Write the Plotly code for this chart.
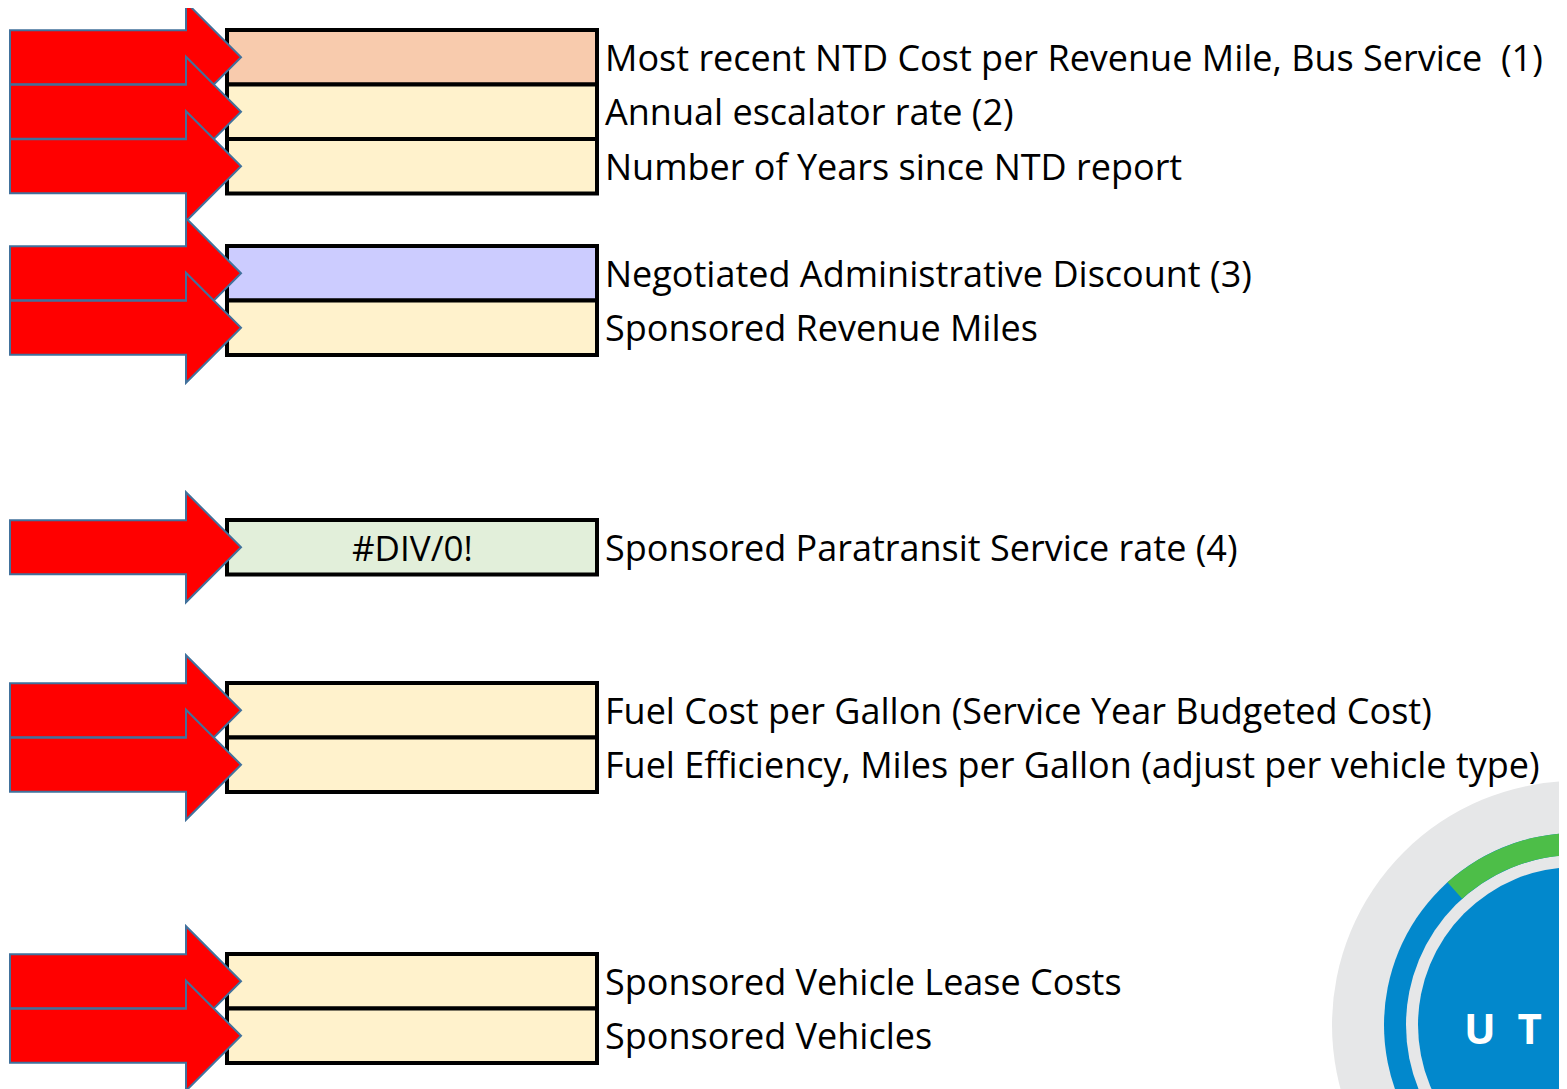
import numpy as np
import plotly.graph_objects as go

# Input cells, top to bottom
LABELS = [
    "Most recent NTD Cost per Revenue Mile, Bus Service  (1)",
    "Annual escalator rate (2)",
    "Number of Years since NTD report",
    "Negotiated Administrative Discount (3)",
    "Sponsored Revenue Miles",
    "Sponsored Paratransit Service rate (4)",
    "Fuel Cost per Gallon (Service Year Budgeted Cost)",
    "Fuel Efficiency, Miles per Gallon (adjust per vehicle type)",
    "Sponsored Vehicle Lease Costs",
    "Sponsored Vehicles",
]
CELL_VALUES = ["", "", "", "", "", "#DIV/0!", "", "", "", ""]
CELL_FILLS = ["#F8CBAD", "#FFF2CC", "#FFF2CC", "#CCCCFF", "#FFF2CC",
              "#E2EFDA", "#FFF2CC", "#FFF2CC", "#FFF2CC", "#FFF2CC"]
# which block each cell belongs to
GROUPS = [0, 0, 0, 1, 1, 2, 3, 3, 4, 4]

W, H = 1567, 1089
PAD = 8  # the page body has an 8px margin, so shift the coordinate system by it
GROUP_TOPS = [30, 246, 520, 683, 954]
ROW_H = 54.5
BOX_X0, BOX_X1 = 227, 597
FONT = "Open Sans"

fig = go.Figure()

# cell rectangles
rows = []
count = {}
for i, g in enumerate(GROUPS):
    k = count.get(g, 0)
    count[g] = k + 1
    y0 = GROUP_TOPS[g] + k * ROW_H
    rows.append((y0, y0 + ROW_H))

for (y0, y1), fill in zip(rows, CELL_FILLS):
    fig.add_shape(type="rect", x0=BOX_X0, x1=BOX_X1, y0=y0, y1=y1,
                  fillcolor=fill, line=dict(color="black", width=4), layer="above")

# red arrows, drawn after the cells so the tips sit on top
for y0, y1 in rows:
    c = (y0 + y1) / 2
    path = (f"M 10 {c-27} L 186 {c-27} L 186 {c-55} L 241 {c} "
            f"L 186 {c+55} L 186 {c+27} L 10 {c+27} Z")
    fig.add_shape(type="path", path=path, fillcolor="#FF0000",
                  line=dict(color="#41719C", width=2), layer="above")

# labels and cell values
for (y0, y1), label, val in zip(rows, LABELS, CELL_VALUES):
    c = (y0 + y1) / 2
    fig.add_annotation(x=603, y=c, text=label, showarrow=False, xanchor="left",
                       yanchor="middle", font=dict(family=FONT, size=36, color="black"))
    if val:
        fig.add_annotation(x=(BOX_X0 + BOX_X1) / 2, y=c, text=val, showarrow=False,
                           xanchor="center", yanchor="middle",
                           font=dict(family=FONT, size=35, color="black"))

# UTA logo in the corner (partly off the page)
cx, cy = 1576, 1025
for r, col in [(244, "#E6E7E8"), (192, "#0288CC"), (170, "#E6E7E8"), (158, "#0288CC")]:
    fig.add_shape(type="circle", x0=cx - r, x1=cx + r, y0=cy - r, y1=cy + r,
                  fillcolor=col, line=dict(width=0), layer="above")
# green arc on the outer ring (from ~132 deg clockwise)
ang = np.linspace(np.radians(132), np.radians(20), 40)
outer = [(cx + 192 * np.cos(a), cy - 192 * np.sin(a)) for a in ang]
inner = [(cx + 170 * np.cos(a), cy - 170 * np.sin(a)) for a in ang[::-1]]
path = "M " + " L ".join(f"{x:.1f} {y:.1f}" for x, y in outer + inner) + " Z"
fig.add_shape(type="path", path=path, fillcolor="#4DBE48", line=dict(width=0), layer="above")
fig.add_annotation(x=1462, y=1027, text="<b>U  T  A</b>", showarrow=False, xanchor="left",
                   yanchor="middle", font=dict(family=FONT, size=42, color="white"))

fig.update_layout(
    width=W - PAD, height=H - PAD,
    margin=dict(l=0, r=0, t=0, b=0),
    plot_bgcolor="white", paper_bgcolor="white",
    xaxis=dict(range=[PAD, W], visible=False, fixedrange=True),
    yaxis=dict(range=[H, PAD], visible=False, fixedrange=True),
    showlegend=False,
)

fig.write_html("out.html")
